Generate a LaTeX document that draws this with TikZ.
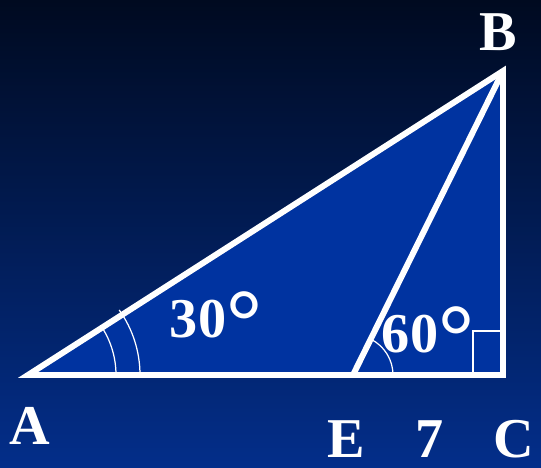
\documentclass[tikz,border=0pt]{standalone}
\usepackage{fontspec}
\setmainfont{Liberation Serif}
\usetikzlibrary{calc}
\definecolor{nighttop}{RGB}{0,10,32}
\definecolor{nightbottom}{RGB}{3,46,138}
\definecolor{trifill}{RGB}{0,51,160}
\newcommand{\bigdeg}{\smash{\raisebox{-0.26em}{\scalebox{1.6}{\textdegree}}}}

\begin{document}
\begin{tikzpicture}[
 x=0.02cm,y=-0.02cm,
 side/.style={draw=white,line width=3.4pt,line join=miter},
 anglemark/.style={draw=white,line width=0.7pt},
 lbl/.style={text=white,inner sep=0pt,anchor=base,font=\fontsize{32}{36}\selectfont\bfseries}]
 % background
 \fill[top color=nighttop,bottom color=nightbottom] (0,0) rectangle (541,467);
 \useasboundingbox (0,0) rectangle (541,467);
 \coordinate (A) at (28,375);
 \coordinate (E) at (353,375);
 \coordinate (C) at (503,375);
 \coordinate (B) at (503,71);
 \fill[trifill] (A)--(C)--(B)--cycle;
 % angle marks
 \draw[anglemark] ($(A)+(88,0)$) arc[start angle=0,end angle=-32.6,radius=88];
 \draw[anglemark] ($(A)+(112,0)$) arc[start angle=0,end angle=-35.5,radius=112];
 \draw[anglemark] ($(E)+(40,0)$) arc[start angle=0,end angle=-63.7,radius=40];
 \draw[anglemark,line width=1.4pt] (473,375) |- (503,331);
 % sides
 \draw[side] (A)--(C)--(B)--cycle;
 \draw[side] (E)--(B);
 % labels
 \node[lbl] (labA) at (30,444) {A};
 \node[lbl] (labB) at (498,50) {B};
 \node[lbl] (labE) at (346,457) {E};
 \node[lbl] (labSeven) at (430,457) {7};
 \node[lbl] (labC) at (514,457) {C};
 \node[lbl] (angA) at (216,337) {30\bigdeg};
 \node[lbl] (angE) at (428,352) {60\bigdeg};
\end{tikzpicture}
\end{document}
